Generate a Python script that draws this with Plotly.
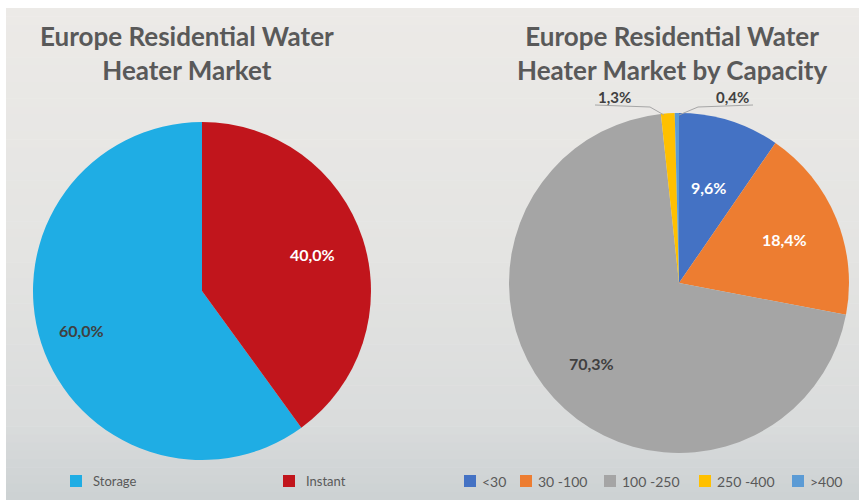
import math
import plotly.graph_objects as go

W, H = 859, 500

# ---- data ----
market_labels = ["Storage", "Instant"]
market_values = [60.0, 40.0]
market_colors = ["#1fade4", "#c1151c"]

capacity_labels = ["<30", "30 -100", "100 -250", "250 -400", ">400"]
capacity_values = [9.6, 18.4, 70.3, 1.3, 0.4]
capacity_colors = ["#4472c4", "#ed7d31", "#a5a5a5", "#ffc000", "#5b9bd5"]

TEXT_DARK = "#404040"
TITLE_COL = "#595959"
FONT = "Lato"

# pie geometry in pixels: centre and radius
PIE1 = dict(cx=202, cy=291, r=169)
PIE2 = dict(cx=679, cy=283, r=170)


def px(x):
    return x / W


def py(y):
    return 1 - y / H


def fmt(v):
    return f"{v:.1f}".replace(".", ",") + "%"


def domain(g):
    return dict(x=[px(g["cx"] - g["r"]), px(g["cx"] + g["r"])],
                y=[py(g["cy"] + g["r"]), py(g["cy"] - g["r"])])


def slice_label_points(values, rotation, geom, radius_frac):
    """Mid-angle label anchor for each clockwise slice, in paper coordinates."""
    total = sum(values)
    out, acc = [], 0.0
    for v, rf in zip(values, radius_frac):
        mid = math.radians(rotation + 360 * (acc + v / 2) / total)
        acc += v
        x = geom["cx"] + rf * geom["r"] * math.sin(mid)
        y = geom["cy"] - rf * geom["r"] * math.cos(mid)
        out.append((px(x), py(y), 100 * v / total))
    return out


shapes = []
# soft vertical gradient behind both charts
stops = [(8, (236, 234, 231)), (250, (228, 228, 226)), (420, (218, 220, 220)), (500, (204, 209, 210))]
n_bands = 60
for i in range(n_bands):
    y0 = 8 + (H - 8) * i / n_bands
    y1 = 8 + (H - 8) * (i + 1) / n_bands
    ym = (y0 + y1) / 2
    for (a, ca), (b, cb) in zip(stops[:-1], stops[1:]):
        if a <= ym <= b:
            t = (ym - a) / (b - a)
            c = tuple(round(ca[k] + (cb[k] - ca[k]) * t) for k in range(3))
            break
    shapes.append(dict(type="rect", xref="paper", yref="paper", layer="below",
                       x0=px(6), x1=1, y0=py(y1) - 0.001, y1=py(y0),
                       line=dict(width=0), fillcolor=f"rgb{c}"))

fig = go.Figure()

rotation1 = 360 * market_values[1] / sum(market_values)
fig.add_trace(go.Pie(
    labels=market_labels, values=market_values, sort=False, direction="clockwise",
    rotation=rotation1,
    marker=dict(colors=market_colors, line=dict(width=0)),
    textinfo="none", domain=domain(PIE1), showlegend=False, hoverinfo="label+percent",
))

fig.add_trace(go.Pie(
    labels=capacity_labels, values=capacity_values, sort=False, direction="clockwise",
    rotation=0,
    marker=dict(colors=capacity_colors, line=dict(width=0)),
    textinfo="none", domain=domain(PIE2), showlegend=False, hoverinfo="label+percent",
))

annotations = []


def add_text(text, x, y, size, color, bold=True, xanchor="center"):
    annotations.append(dict(text=f"<b>{text}</b>" if bold else text, x=x, y=y,
                            xref="paper", yref="paper", xanchor=xanchor, yanchor="middle",
                            showarrow=False, align="center",
                            font=dict(family=FONT, size=size, color=color)))


# titles
add_text("Europe Residential Water<br>Heater Market", px(187), py(53), 26, TITLE_COL)
add_text("Europe Residential Water<br>Heater Market by Capacity", px(672), py(53), 26, TITLE_COL)

# slice value labels
market_text_col = [TEXT_DARK, "white"]
for (x, y, pct), col in zip(slice_label_points(market_values, rotation1, PIE1, [0.75, 0.69]),
                            market_text_col):
    add_text(fmt(pct), x, y, 16, col)

cap_text_col = ["white", "white", TEXT_DARK]
cap_pts = slice_label_points(capacity_values, 0, PIE2, [0.59, 0.67, 0.70, 1, 1])
for (x, y, pct), col in zip(cap_pts[:3], cap_text_col):
    add_text(fmt(pct), x, y, 16, col)

# call-outs for the two thin slices
add_text(fmt(cap_pts[3][2]), px(614), py(97), 15, TEXT_DARK)
add_text(fmt(cap_pts[4][2]), px(732), py(97), 15, TEXT_DARK)

# leader lines from the call-outs to the slice rim
for pts in ([(595, 105), (650, 107), (664, 115)], [(753, 105), (698, 107), (679, 115)]):
    path = "M " + " L ".join(f"{px(x)},{py(y)}" for x, y in pts)
    shapes.append(dict(type="path", xref="paper", yref="paper", path=path,
                       line=dict(color="#a6a6a6", width=1)))

# legends: colour swatch followed by its label
legend_y = 481
for labels, colors, swatch_x, size in (
    (market_labels, market_colors, [70, 283], 13),
    (capacity_labels, capacity_colors, [464, 520, 604, 699, 792], 14),
):
    for lab, col, sx in zip(labels, colors, swatch_x):
        shapes.append(dict(type="rect", xref="paper", yref="paper",
                           x0=px(sx), x1=px(sx + 12), y0=py(legend_y + 6), y1=py(legend_y - 6),
                           line=dict(width=0), fillcolor=col))
        add_text(lab, px(sx + 16 if size == 14 else sx + 21), py(legend_y), size, TITLE_COL,
                 bold=False, xanchor="left")

fig.update_layout(
    width=W, height=H, margin=dict(l=0, r=0, t=0, b=0, autoexpand=False),
    paper_bgcolor="white", plot_bgcolor="rgba(0,0,0,0)",
    separators=",.",
    shapes=shapes, annotations=annotations,
)

fig.write_html("out.html")
